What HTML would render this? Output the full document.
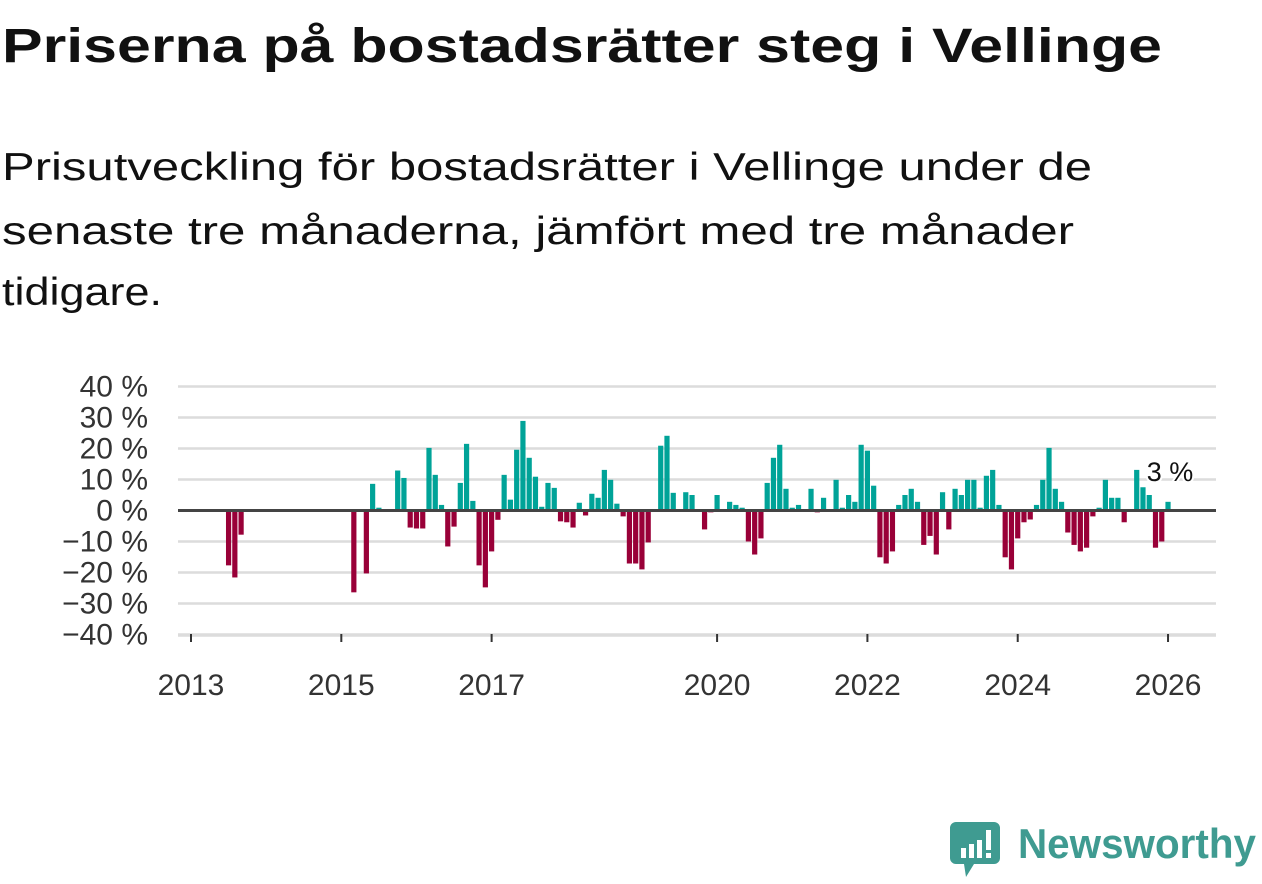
<!DOCTYPE html>
<html><head><meta charset="utf-8"><style>
html,body{margin:0;padding:0;background:#fff;}
body{width:1262px;height:879px;overflow:hidden;font-family:"Liberation Sans",sans-serif;}
</style></head><body>
<svg id="chart" width="1262" height="879" viewBox="0 0 1262 879" xmlns="http://www.w3.org/2000/svg" font-family="Liberation Sans, sans-serif">
<text x="2" y="62" font-size="48" font-weight="bold" fill="#111" textLength="1160" lengthAdjust="spacingAndGlyphs">Priserna på bostadsrätter steg i Vellinge</text>
<g font-size="39" fill="#111">
<text x="2" y="180" textLength="1090" lengthAdjust="spacingAndGlyphs">Prisutveckling för bostadsrätter i Vellinge under de</text>
<text x="2" y="244" textLength="1072" lengthAdjust="spacingAndGlyphs">senaste tre månaderna, jämfört med tre månader</text>
<text x="2" y="305" textLength="160" lengthAdjust="spacingAndGlyphs">tidigare.</text>
</g>
<g id="grid"></g>
<g id="yaxis"></g>
<g id="bars"></g>
<g id="xaxis"></g>
<g>
<path d="M956 822 h38 a6 6 0 0 1 6 6 v30 a6 6 0 0 1 -6 6 h-20 l-8 13 l-2 -13 h-8 a6 6 0 0 1 -6 -6 v-30 a6 6 0 0 1 6 -6z" fill="#3f9b91"/>
<rect x="961" y="848" width="5" height="10" fill="#fff"/>
<rect x="969" y="844" width="5" height="14" fill="#fff"/>
<rect x="977" y="840" width="5" height="18" fill="#fff"/>
<rect x="986" y="830" width="5" height="20" fill="#fff"/>
<rect x="986" y="853" width="5" height="5" fill="#fff"/>
<text x="1018" y="858" font-size="42" font-weight="bold" fill="#3f9b91" textLength="238" lengthAdjust="spacingAndGlyphs">Newsworthy</text>
</g>
</svg>
<script>
const startYear = 2013;
const values = [null,null,null,null,null,null,-17.7,-21.6,-7.8,null,null,null,
null,null,null,null,null,null,null,null,null,null,null,null,
null,null,-26.4,null,-20.3,8.6,0.9,null,null,12.9,10.5,-5.5,
-5.8,-5.8,20.2,11.5,1.8,-11.6,-5.2,8.9,21.5,3.1,-17.7,-24.8,
-13.2,-3.0,11.5,3.5,19.6,28.9,17.0,10.9,1.2,8.9,7.3,-3.5,
-3.8,-5.5,2.5,-1.6,5.4,4.1,13.1,9.9,2.2,-1.9,-17.1,-17.1,
-19.0,-10.3,null,20.9,24.1,5.7,null,5.9,5.0,null,-6.1,-0.6,
5.0,null,2.8,1.8,0.9,-10.0,-14.2,-9.0,8.9,17.0,21.2,7.0,
0.9,1.8,null,7.0,-0.6,4.1,null,9.9,0.9,5.0,2.8,21.2,
19.3,8.0,-15.1,-17.1,-13.2,1.8,5.0,7.0,2.8,-11.1,-8.2,-14.2,
5.9,-6.1,7.0,5.0,9.9,9.9,0.9,11.2,13.1,1.8,-15.1,-19.0,
-9.0,-3.8,-2.9,1.8,9.9,20.2,7.0,2.8,-7.1,-11.1,-13.2,-12.0,
-1.9,0.9,9.9,4.1,4.1,-3.8,null,13.1,7.5,5.0,-12.0,-10.0,
2.8];
const yTicks = [40,30,20,10,0,-10,-20,-30,-40];
const yTickLabels = ["40 %","30 %","20 %","10 %","0 %","−10 %","−20 %","−30 %","−40 %"];
const xTickYears = [2013,2015,2017,2020,2022,2024,2026];
const lastLabel = "3 %";

const NS = "http://www.w3.org/2000/svg";
const X0 = 191, MONTH = 6.263, Y0 = 510.5, PER = 3.1;
const xScale = m => X0 + MONTH * m;
const yScale = v => Y0 - v * PER;
function mk(tag, attrs, parent){const e=document.createElementNS(NS,tag);for(const k in attrs)e.setAttribute(k,attrs[k]);parent.appendChild(e);return e;}

const grid = document.getElementById('grid');
const yaxis = document.getElementById('yaxis');
yTicks.forEach((t,i)=>{
  if(t!==0){
    const l = mk('line',{x1:178,x2:1216,y1:yScale(t),y2:yScale(t),stroke:'#dcdcdc','stroke-width':2.5},grid);
    
    
  }
  const tx = mk('text',{x:148,y:yScale(t)+10,'text-anchor':'end','font-size':30,fill:'#333'},yaxis);
  
  
  tx.textContent = yTickLabels[i];
});
mk('line',{x1:178,x2:1216,y1:636,y2:636,stroke:'#dcdcdc','stroke-width':1.5},grid);

const bars = document.getElementById('bars');
values.forEach((v,m)=>{
  if(v===null||v===0) return;
  const x = xScale(m) - 2.6;
  const y = v>0 ? yScale(v) : Y0;
  const h = Math.abs(v)*PER;
  const r = mk('rect',{x:x,y:y,width:5.2,height:h,fill: v>0?'#00a398':'#990038'},bars);
  
  
});
mk('line',{x1:178,x2:1216,y1:Y0,y2:Y0,stroke:'#444','stroke-width':3},bars);
let lastIdx = values.length-1;
const lbl = mk('text',{x:xScale(lastIdx)+2,y:yScale(values[lastIdx])-21,'text-anchor':'middle','font-size':27,fill:'#111',stroke:'#fff','stroke-width':4,'paint-order':'stroke'},bars);


lbl.textContent = lastLabel;

const xaxis = document.getElementById('xaxis');
xTickYears.forEach(yr=>{
  const x = xScale((yr-startYear)*12);
  const t = mk('line',{x1:x,x2:x,y1:634,y2:642,stroke:'#333','stroke-width':2},xaxis);
  
  
  const tx = mk('text',{x:x,y:695,'text-anchor':'middle','font-size':30,fill:'#333'},xaxis);
  
  
  tx.textContent = yr;
});
</script>
</body></html>
